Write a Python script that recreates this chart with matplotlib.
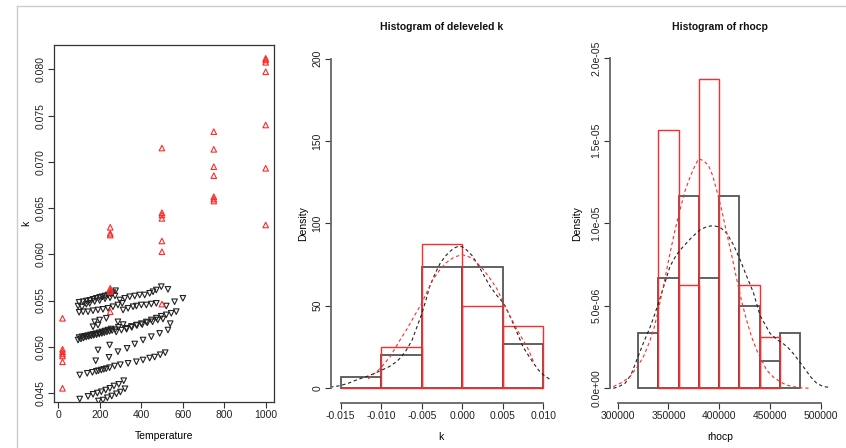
import numpy as np
import matplotlib.pyplot as plt
from matplotlib.lines import Line2D

plt.rcParams['font.family'] = ['Liberation Sans', 'DejaVu Sans']
plt.rcParams['font.size'] = 7.5

# --- scatter: conductivity k against temperature ---
red_T = [21] * 7 + [251] * 7 + [500] * 7 + [750] * 7 + [1000] * 7
red_k = [0.05308, 0.04973, 0.04947, 0.04922, 0.04900, 0.04838, 0.04551,
         0.06292, 0.06227, 0.06208, 0.05632, 0.05614, 0.05596, 0.05379,
         0.07149, 0.06450, 0.06425, 0.06389, 0.06144, 0.06028, 0.05462,
         0.07326, 0.07135, 0.06947, 0.06850, 0.06623, 0.06598, 0.06576,
         0.08119, 0.08101, 0.08076, 0.07974, 0.07398, 0.06930, 0.06317]

black_T = [
    # top-left rows
    101, 120, 136, 152, 168, 184, 200, 213, 226, 240, 253, 264, 277,
    96, 115, 136, 152, 176, 200, 226, 250, 274,
    101, 120, 144, 168, 192, 216, 240, 264, 288, 309,
    # upper right rows
    297, 321, 345, 369, 393, 417, 441, 457, 473, 497, 529,
    313, 337, 361, 377, 401, 425, 449, 473, 521, 561, 601,
    # middle band
    96, 110, 122, 135, 148, 160, 172, 185, 198, 210, 222, 235, 248, 260, 275, 290, 313,
    101, 115, 128, 142, 156, 170, 184, 198, 212, 226, 240, 255,
    168, 176, 192, 200, 232, 288,
    329, 353, 377, 401, 425, 449, 473, 497, 521, 545, 569,
    280, 305, 330, 355, 380, 405, 430, 455, 480, 505, 540,
    181, 192, 245, 248, 288, 332, 369, 409, 449, 489, 529,
    # lower lines
    104, 140, 165, 184, 194, 208, 220, 232, 248, 272, 300, 337, 377, 409, 441, 465, 492, 516,
    104, 144, 168, 189, 208, 229, 249, 269, 292, 316,
    194, 216, 237, 258, 281, 300, 322,
]
black_k = [
    0.05481, 0.05487, 0.05495, 0.05502, 0.05513, 0.05524, 0.05535, 0.05541, 0.05549, 0.05560, 0.05571, 0.05585, 0.05606,
    0.05440, 0.05430, 0.05460, 0.05470, 0.05490, 0.05500, 0.05520, 0.05530, 0.05550,
    0.05373, 0.05379, 0.05379, 0.05390, 0.05398, 0.05405, 0.05416, 0.05433, 0.05452, 0.05470,
    0.05506, 0.05524, 0.05541, 0.05549, 0.05560, 0.05560, 0.05578, 0.05595, 0.05614, 0.05650, 0.05621,
    0.05398, 0.05416, 0.05433, 0.05441, 0.05452, 0.05452, 0.05462, 0.05470, 0.05441, 0.05487, 0.05524,
    0.05073, 0.05085, 0.05095, 0.05105, 0.05112, 0.05118, 0.05124, 0.05130, 0.05138, 0.05145, 0.05152, 0.05160, 0.05168, 0.05176, 0.05185, 0.05210, 0.05240,
    0.05100, 0.05108, 0.05114, 0.05120, 0.05128, 0.05135, 0.05142, 0.05150, 0.05160, 0.05170, 0.05180, 0.05192,
    0.05217, 0.05270, 0.05235, 0.05289, 0.05308, 0.05270,
    0.05200, 0.05220, 0.05235, 0.05250, 0.05268, 0.05290, 0.05310, 0.05330, 0.05345, 0.05362, 0.05380,
    0.05160, 0.05180, 0.05190, 0.05210, 0.05230, 0.05240, 0.05260, 0.05270, 0.05290, 0.05300, 0.05250,
    0.04849, 0.04965, 0.04886, 0.05019, 0.04947, 0.04983, 0.05030, 0.05073, 0.05109, 0.05145, 0.05181,
    0.04695, 0.04713, 0.04724, 0.04735, 0.04741, 0.04749, 0.04756, 0.04763, 0.04774, 0.04792, 0.04806, 0.04821, 0.04838, 0.04857, 0.04878, 0.04889, 0.04914, 0.04936,
    0.04435, 0.04464, 0.04486, 0.04500, 0.04514, 0.04532, 0.04551, 0.04576, 0.04594, 0.04633,
    0.04414, 0.04424, 0.04449, 0.04468, 0.04492, 0.04511, 0.04546,
]

# --- histogram of deleveled k ---
k_breaks = [-0.015, -0.010, -0.005, 0.0, 0.005, 0.010]
k_dens_all = [6.67, 20.0, 73.33, 73.33, 26.67]
k_dens_sub = [0.0, 25.0, 87.5, 50.0, 37.5]
kde_k_all_x = [-0.0163, -0.0151, -0.0140, -0.0130, -0.0115, -0.0101, -0.0090, -0.0081, -0.0075, -0.0069,
               -0.0062, -0.0056, -0.0050, -0.0045, -0.0040, -0.0033, -0.0027, -0.0020, -0.0015, -0.0010,
               -0.0005, 0.0000, 0.0005, 0.0012, 0.0018, 0.0026, 0.0034, 0.0043, 0.0051, 0.0057, 0.0063,
               0.0069, 0.0075, 0.0082, 0.0088, 0.0094, 0.0100, 0.0110]
kde_k_all_y = [0.5, 1.4, 3.0, 5.0, 7.5, 10.5, 13.0, 16.0, 19.0, 23.0,
               29.0, 37.0, 45.0, 53.0, 62.0, 70.0, 76.0, 80.5, 83.0, 85.0,
               86.0, 85.8, 84.0, 80.5, 76.0, 69.0, 62.0, 56.0, 51.5, 45.5, 39.0,
               32.0, 25.0, 19.5, 15.0, 11.0, 8.0, 4.6]
kde_k_sub_x = [-0.0116, -0.0101, -0.0089, -0.0077, -0.0068, -0.0060, -0.0050, -0.0043, -0.0036, -0.0028,
               -0.0020, -0.0010, 0.0000, 0.0012, 0.0026, 0.0035, 0.0043, 0.0055, 0.0067, 0.0074, 0.0080, 0.0088]
kde_k_sub_y = [5.5, 12.0, 19.0, 29.0, 36.0, 43.0, 51.5, 59.0, 66.0, 71.5,
               76.0, 79.5, 81.0, 79.0, 72.0, 66.0, 60.0, 47.5, 36.0, 30.0, 25.0, 16.0]

# --- histogram of rhocp (densities in units of 1e-6) ---
r_breaks = [320000, 340000, 360000, 380000, 400000, 420000, 440000, 460000, 480000]
r_dens_all = [3.33, 6.67, 11.67, 6.67, 11.67, 5.0, 1.67, 3.33]
r_breaks_sub = [340000, 360000, 380000, 400000, 420000, 440000, 460000]
r_dens_sub = [15.625, 6.25, 18.75, 0.0, 6.25, 3.125]
kde_r_all_x = [295700, 301000, 307200, 313000, 318700, 325000, 331900, 336000, 340100, 346000, 351600, 358000,
               364700, 373000, 381100, 388000, 394300, 401000, 407400, 414000, 420500, 427000, 433700, 440300,
               450100, 457000, 463200, 468000, 473100, 478000, 483000, 490000, 496100, 502000, 507600]
kde_r_all_y = [0.0, 0.1, 0.3, 0.8, 1.7, 2.7, 3.7, 4.4, 5.15, 6.3, 7.4, 8.1,
               8.6, 9.15, 9.6, 9.8, 9.86, 9.75, 9.4, 8.7, 7.8, 6.8, 5.8, 4.4,
               3.33, 2.95, 2.7, 2.45, 2.1, 1.7, 1.3, 0.7, 0.3, 0.12, 0.06]
kde_r_sub_x = [295700, 304000, 312100, 320400, 326000, 331900, 336000, 340100, 346000, 351600, 356500, 361400,
               366000, 371300, 375500, 379500, 384500, 389400, 393500, 397500, 402500, 407400, 412500, 417300,
               422000, 427100, 432000, 437000, 446800, 453000, 460000, 466000, 473100, 481000, 489500]
kde_r_sub_y = [0.1, 0.35, 0.7, 1.4, 2.0, 2.9, 3.7, 4.75, 6.5, 8.2, 9.6, 10.8,
               11.9, 12.8, 13.4, 13.9, 13.8, 13.5, 12.9, 12.0, 10.8, 9.4, 8.0, 6.6,
               5.3, 4.1, 3.1, 2.3, 1.1, 0.7, 0.4, 0.2, 0.1, 0.03, 0.0]

fg = '#333333'
red = '#ff2a2a'
fig = plt.figure(figsize=(8.46, 4.48), dpi=100)
W, H = 846.0, 448.0


def box(x0, x1, y0, y1):
    return [x0 / W, 1 - y1 / H, (x1 - x0) / W, (y1 - y0) / H]


def style_ax(ax):
    ax.tick_params(direction='out', length=4, width=0.8, color=fg, labelcolor='#222222', pad=2)
    for s in ax.spines.values():
        s.set_color(fg)
        s.set_linewidth(0.9)


def r_axes(ax):
    # detached R-style axis lines
    ax.spines['top'].set_visible(False)
    ax.spines['right'].set_visible(False)
    for side in ('left', 'bottom'):
        ax.spines[side].set_color('#666666')
        ax.spines[side].set_linewidth(1.3)


def hist_outline(ax, breaks, dens, color, lw):
    left = np.array(breaks[:-1])
    width = np.diff(breaks)
    ax.bar(left, dens, width=width, align='edge', fill=False, edgecolor=color, linewidth=lw)


# panel 1
ax1 = fig.add_axes(box(54, 274, 45, 402))
ax1.scatter(black_T, black_k, marker='v', s=16, facecolors='none', edgecolors='#222222', linewidths=0.8)
ax1.scatter(red_T, red_k, marker='^', s=16, facecolors='none', edgecolors=red, linewidths=0.8)
ax1.set_xlim(-20, 1040)
ax1.set_ylim(0.04403, 0.08263)
ax1.set_xticks([0, 200, 400, 600, 800, 1000])
ax1.set_yticks([0.045, 0.050, 0.055, 0.060, 0.065, 0.070, 0.075, 0.080])
ax1.set_yticklabels(['0.045', '0.050', '0.055', '0.060', '0.065', '0.070', '0.075', '0.080'],
                    rotation=90, va='center')
ax1.set_xlabel('Temperature', labelpad=8)
ax1.set_ylabel('k', labelpad=3)
style_ax(ax1)

# panel 2
ax2 = fig.add_axes(box(330.7, 551.7, 45, 402.5))
hist_outline(ax2, k_breaks, k_dens_all, '#555555', 1.3)
hist_outline(ax2, k_breaks, k_dens_sub, red, 1.0)
ax2.plot(kde_k_all_x, kde_k_all_y, color='#222222', lw=0.8, dashes=(3, 2.5))
ax2.plot(kde_k_sub_x, kde_k_sub_y, color=red, lw=0.8, dashes=(3, 2.5))
ax2.set_xlim(-0.016234, 0.011037)
ax2.set_ylim(-8.8, 208.3)
ax2.set_xticks([-0.015, -0.010, -0.005, 0.0, 0.005, 0.010])
ax2.set_xticklabels(['-0.015', '-0.010', '-0.005', '0.000', '0.005', '0.010'])
ax2.set_yticks([0, 50, 100, 150, 200])
ax2.set_yticklabels(['0', '50', '100', '150', '200'], rotation=90, va='center')
style_ax(ax2)
r_axes(ax2)
ax2.spines['left'].set_bounds(0, 200)
ax2.spines['bottom'].set_bounds(-0.015, 0.010)
ax2.set_xlabel('k', labelpad=8)
ax2.set_ylabel('Density', labelpad=3)

# panel 3
ax3 = fig.add_axes(box(609.7, 830.0, 45, 402.5))
hist_outline(ax3, r_breaks, np.array(r_dens_all) * 1e-6, '#555555', 1.3)
hist_outline(ax3, r_breaks_sub, np.array(r_dens_sub) * 1e-6, red, 1.0)
ax3.plot(kde_r_all_x, np.array(kde_r_all_y) * 1e-6, color='#222222', lw=0.8, dashes=(3, 2.5))
ax3.plot(kde_r_sub_x, np.array(kde_r_sub_y) * 1e-6, color=red, lw=0.8, dashes=(3, 2.5))
ax3.set_xlim(292118, 509163)
ax3.set_ylim(-0.86e-6, 20.8e-6)
ax3.set_xticks([300000, 350000, 400000, 450000, 500000])
ax3.set_xticklabels(['300000', '350000', '400000', '450000', '500000'])
ax3.set_yticks([0, 5e-6, 1e-5, 1.5e-5, 2e-5])
ax3.set_yticklabels(['0.0e+00', '5.0e-06', '1.0e-05', '1.5e-05', '2.0e-05'], rotation=90, va='center')
style_ax(ax3)
r_axes(ax3)
ax3.spines['left'].set_bounds(0, 2e-5)
ax3.spines['bottom'].set_bounds(300000, 500000)
ax3.set_xlabel('rhocp', labelpad=8)
ax3.set_ylabel('Density', labelpad=7)

fig.text(441.2 / W, 1 - 27 / H, 'Histogram of deleveled k', ha='center', va='center',
         fontsize=7.5, fontweight='bold', color='#111111')
fig.text(719.9 / W, 1 - 27 / H, 'Histogram of rhocp', ha='center', va='center',
         fontsize=7.5, fontweight='bold', color='#111111')

# window frame
fig.add_artist(Line2D([16.5 / W, 16.5 / W], [0, 1 - 6 / H], color='#cccccc', lw=1))
fig.add_artist(Line2D([16.5 / W, 1], [1 - 6 / H, 1 - 6 / H], color='#cccccc', lw=1))

fig.savefig('out.png', dpi=100)
